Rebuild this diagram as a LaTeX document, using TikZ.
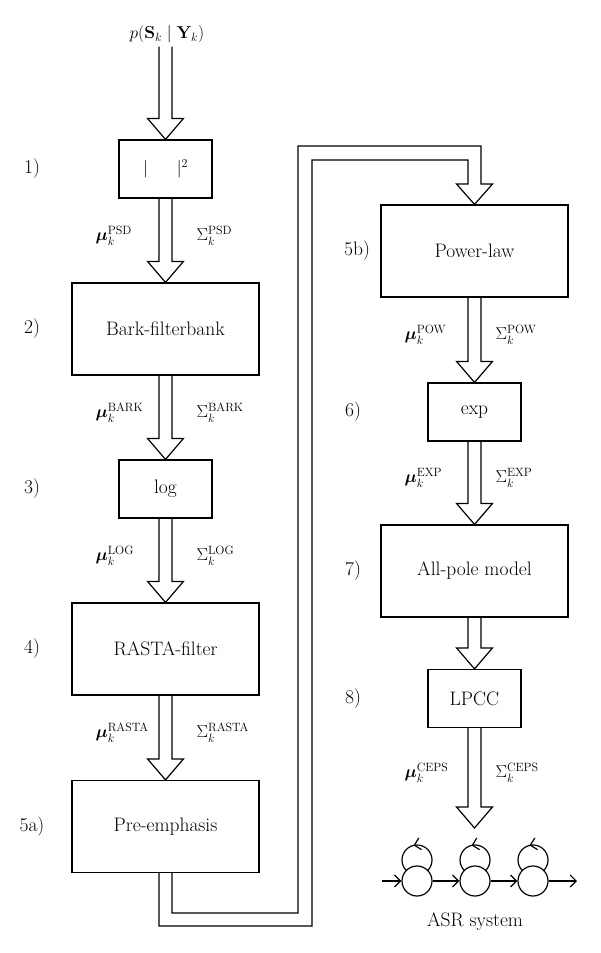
\documentclass[tikz,border=0pt]{standalone}
\usepackage{amsmath,bm}
\DeclareMathSizes{19.5}{17.28}{12}{10}
\usetikzlibrary{calc,arrows.meta,decorations.markings}
\begin{document}
\begin{tikzpicture}[x=1pt,y=-1pt, line width=1.2pt,
  font=\fontsize{19.5}{23}\selectfont,
  bigbox/.style={draw, minimum width=187pt, minimum height=92pt, inner sep=0pt},
  smallbox/.style={draw, minimum width=93pt, minimum height=58pt, inner sep=0pt},
  fat/.style={to path={let \p1=(\tikztostart), \p2=(\tikztotarget) in
     (\x1-6.5pt,\y1) -- (\x1-6.5pt,\y2+21pt) -- (\x1-18pt,\y2+21pt) -- (\x1,\y2)
     -- (\x1+18pt,\y2+21pt) -- (\x1+6.5pt,\y2+21pt) -- (\x1+6.5pt,\y1)}},
  lab/.style={anchor=west, inner sep=0pt},
  steplab/.style={inner sep=0pt},
  hmm/.style={draw, circle, minimum size=30pt, inner sep=0pt},
  arr/.style={-{Straight Barb[length=6pt,width=12pt]}},
  loopdeco/.style={decoration={markings, mark=at position 0.55 with {\arrow{Straight Barb[length=6pt,width=12pt]}}}, postaction={decorate}}
]
\useasboundingbox (0,0) rectangle (600,953);

% input
\node[inner sep=0pt, inner ysep=3pt] (top) at (167,34.5) {$p(\mathbf{S}_k \mid \mathbf{Y}_k)$};

% left column
\node[smallbox] (b1) at (165.5,169) {$|\hspace{29pt}|^2$};
\node[bigbox] (b2) at (165.5,329) {Bark-filterbank};
\node[smallbox] (b3) at (165.5,489) {log};
\node[bigbox] (b4) at (165.5,649) {RASTA-filter};
\node[bigbox] (b5a) at (165.5,826.5) {Pre-emphasis};

% right column
\node[bigbox] (b5b) at (474.5,251) {Power-law};
\node[smallbox] (b6) at (474.5,412) {exp};
\node[bigbox] (b7) at (474.5,571) {All-pole model};
\node[smallbox] (b8) at (474.5,698.5) {LPCC};
\coordinate (hmmtop) at (474.5,828);

% step labels
\node[steplab] (s1) at (32,169) {1)};
\node[steplab] (s2) at (32,329) {2)};
\node[steplab] (s3) at (32,489) {3)};
\node[steplab] (s4) at (32,649) {4)};
\node[steplab] (s5a) at (32,826.5) {5a)};
\node[steplab] (s5b) at (357,251) {5b)};
\node[steplab] (s6) at (353,412) {6)};
\node[steplab] (s7) at (353,571) {7)};
\node[steplab] (s8) at (353,698.5) {8)};

% fat arrows
\draw (top.south -| b1.north) to[fat] (b1.north);
\draw (b1.south) to[fat] (b2.north);
\draw (b2.south) to[fat] (b3.north);
\draw (b3.south) to[fat] (b4.north);
\draw (b4.south) to[fat] (b5a.north);
\draw (b5b.south) to[fat] (b6.north);
\draw (b6.south) to[fat] (b7.north);
\draw (b7.south) to[fat] (b8.north);
\draw (b8.south) to[fat] (hmmtop);

% pipe from 5a to 5b
\draw ([xshift=-6.5pt]b5a.south) -- (159,926) -- (312,926) -- (312,160) -- (468,160)
  -- (468,184) -- (456.5,184) -- (b5b.north) -- (492.5,184) -- (481,184)
  -- (481,146) -- (298,146) -- (298,913) -- (172,913) -- ([xshift=6.5pt]b5a.south);

% arrow labels
\node[lab] (m1) at (95,235.5) {$\bm{\mu}_k^{\mathrm{PSD}}$};
\node[lab] (c1) at (196,235.5) {$\Sigma_k^{\mathrm{PSD}}$};
\node[lab] (m2) at (95,412.5) {$\bm{\mu}_k^{\mathrm{BARK}}$};
\node[lab] (c2) at (196,412.5) {$\Sigma_k^{\mathrm{BARK}}$};
\node[lab] (m3) at (95,555.5) {$\bm{\mu}_k^{\mathrm{LOG}}$};
\node[lab] (c3) at (196,555.5) {$\Sigma_k^{\mathrm{LOG}}$};
\node[lab] (m4) at (95,732.5) {$\bm{\mu}_k^{\mathrm{RASTA}}$};
\node[lab] (c4) at (196,732.5) {$\Sigma_k^{\mathrm{RASTA}}$};
\node[lab] (m5) at (404,335) {$\bm{\mu}_k^{\mathrm{POW}}$};
\node[lab] (c5) at (495,335) {$\Sigma_k^{\mathrm{POW}}$};
\node[lab] (m6) at (404,478) {$\bm{\mu}_k^{\mathrm{EXP}}$};
\node[lab] (c6) at (495,478) {$\Sigma_k^{\mathrm{EXP}}$};
\node[lab] (m8) at (404,772.5) {$\bm{\mu}_k^{\mathrm{CEPS}}$};
\node[lab] (c8) at (495,772.5) {$\Sigma_k^{\mathrm{CEPS}}$};

% HMM
\node[hmm] (h1) at (417,881) {};
\node[hmm] (h2) at (475,881) {};
\node[hmm] (h3) at (533,881) {};
\coordinate (hin) at (382,881);
\coordinate (hout) at (577,881);
\draw[arr] (hin) -- (h1);
\draw[arr] (h1) -- (h2);
\draw[arr] (h2) -- (h3);
\draw[arr] (h3) -- (hout);
\foreach \h in {h1,h2,h3}{
  \draw[loopdeco] ([shift={(10.7pt,10.5pt)}]\h.center) arc[start angle=-44.5, end angle=224.5, radius=15pt];
}
\node (asr) at (475,922) {ASR system};
\end{tikzpicture}
\end{document}
